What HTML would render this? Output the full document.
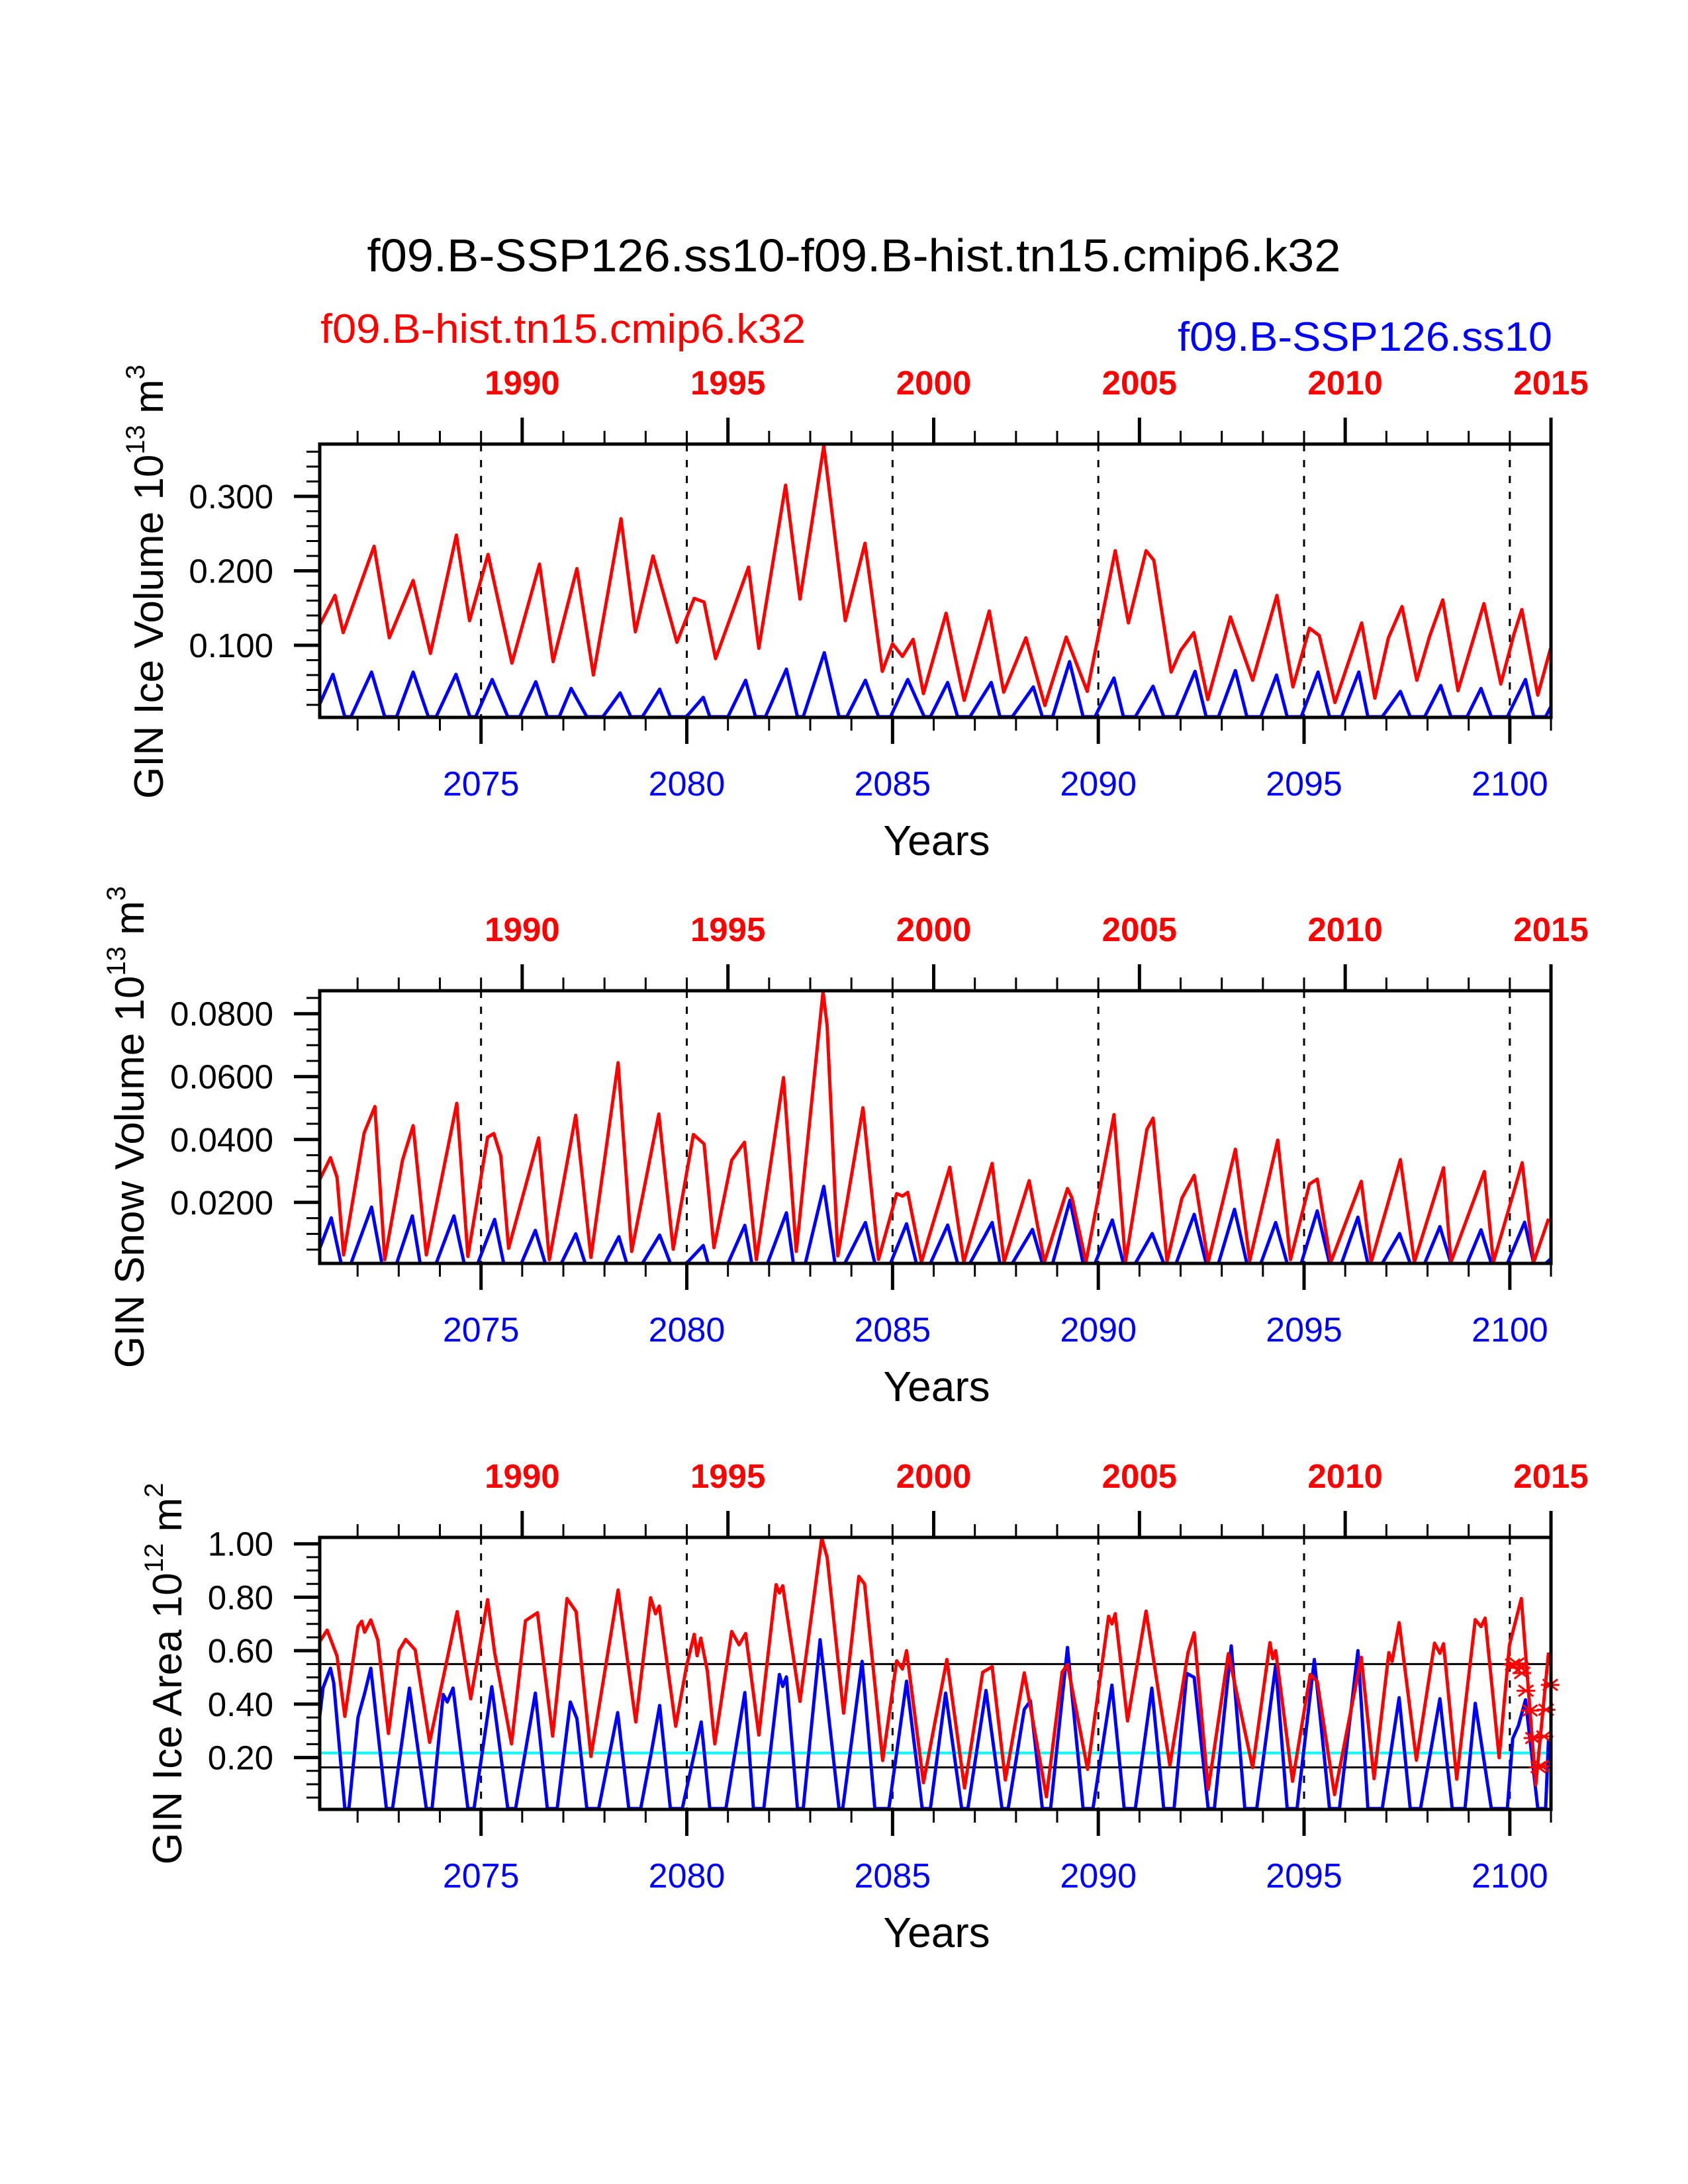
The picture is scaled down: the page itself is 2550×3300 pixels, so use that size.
<!DOCTYPE html>
<html><head><meta charset="utf-8"><style>
html,body{margin:0;padding:0;background:#fff}
svg{display:block}
text{font-family:"Liberation Sans",Arial,sans-serif}
</style></head><body>
<svg id="fig" xmlns="http://www.w3.org/2000/svg" width="2550" height="3300" viewBox="0 0 2550 3300">
<rect x="0" y="0" width="2550" height="3300" fill="#fff"/>
<text x="1290" y="410" font-size="70" text-anchor="middle" textLength="1471" lengthAdjust="spacingAndGlyphs">f09.B-SSP126.ss10-f09.B-hist.tn15.cmip6.k32</text>
<text x="484" y="518" font-size="62" fill="#ff0000" textLength="733" lengthAdjust="spacingAndGlyphs">f09.B-hist.tn15.cmip6.k32</text>
<text x="2345" y="530" font-size="62" fill="#0000ff" text-anchor="end" textLength="566" lengthAdjust="spacingAndGlyphs">f09.B-SSP126.ss10</text>
<g id="panels"></g>
</svg>
<script>
// ---------- Data (time in blue-axis years, value) ----------
const iceVolRedT = [2071.08,2071.45,2071.65,2072.4,2072.77,2073.35,2073.77,2074.4,2074.72,2075.17,2075.75,2076.42,2076.75,2077.33,2077.73,2078.4,2078.75,2079.18,2079.76,2080.18,2080.42,2080.7,2081.5,2081.75,2082.4,2082.75,2083.33,2083.85,2084.33,2084.75,2085.0,2085.24,2085.5,2085.75,2086.3,2086.74,2087.35,2087.7,2088.24,2088.7,2089.22,2089.73,2090.41,2090.73,2091.16,2091.35,2091.77,2092.0,2092.32,2092.66,2093.21,2093.75,2094.34,2094.73,2095.13,2095.37,2095.75,2096.4,2096.72,2097.05,2097.38,2097.74,2098.05,2098.37,2098.74,2099.37,2099.78,2100.1,2100.29,2100.68,2100.99];
const iceVolRedV = [.127,.167,.117,.233,.110,.187,.089,.248,.133,.222,.076,.209,.078,.203,.060,.270,.118,.220,.104,.163,.158,.082,.205,.096,.315,.162,.368,.133,.237,.065,.102,.085,.108,.035,.143,.026,.146,.037,.110,.019,.111,.038,.227,.130,.227,.214,.064,.093,.117,.027,.138,.053,.167,.044,.123,.113,.023,.130,.029,.110,.152,.053,.112,.161,.039,.156,.048,.115,.148,.033,.096];
const iceVolBlueT = [2071.08,2071.4,2071.69,2071.84,2072.34,2072.66,2072.95,2073.35,2073.72,2073.91,2074.39,2074.73,2074.87,2075.27,2075.65,2075.94,2076.33,2076.61,2076.9,2077.19,2077.57,2077.96,2078.38,2078.64,2078.92,2079.34,2079.6,2079.99,2080.4,2080.56,2081.0,2081.43,2081.67,2081.91,2082.42,2082.69,2082.83,2083.34,2083.7,2083.89,2084.34,2084.66,2084.95,2085.37,2085.77,2085.92,2086.34,2086.58,2086.88,2087.4,2087.61,2087.91,2088.42,2088.64,2088.89,2089.3,2089.63,2089.92,2090.38,2090.61,2090.9,2091.33,2091.59,2091.89,2092.35,2092.62,2092.92,2093.33,2093.61,2093.95,2094.33,2094.59,2094.93,2095.34,2095.62,2095.91,2096.33,2096.55,2096.9,2097.34,2097.58,2097.93,2098.32,2098.57,2098.96,2099.3,2099.55,2099.94,2100.38,2100.58,2100.87,2100.99];
const iceVolBlueV = [.021,.061,.004,.004,.064,.004,.004,.064,.004,.004,.061,.004,.004,.054,.004,.004,.051,.004,.004,.042,.004,.004,.036,.004,.004,.041,.004,.004,.030,.004,.004,.053,.004,.004,.068,.004,.004,.090,.004,.004,.053,.004,.004,.054,.004,.004,.050,.004,.004,.050,.004,.004,.044,.004,.004,.078,.004,.004,.056,.004,.004,.045,.004,.004,.065,.004,.004,.066,.004,.004,.060,.004,.004,.064,.004,.004,.064,.004,.004,.038,.004,.004,.046,.004,.004,.042,.004,.004,.054,.004,.004,.017];

const snowRedT = [2071.07,2071.34,2071.5,2071.66,2072.16,2072.42,2072.66,2073.09,2073.35,2073.67,2074.41,2074.68,2075.16,2075.31,2075.48,2075.67,2076.4,2076.66,2077.3,2077.67,2078.33,2078.66,2079.32,2079.67,2080.16,2080.42,2080.66,2081.09,2081.4,2081.69,2082.35,2082.66,2083.31,2083.41,2083.67,2084.28,2084.66,2085.1,2085.24,2085.37,2085.7,2086.39,2086.73,2087.42,2087.71,2088.32,2088.69,2089.25,2089.36,2089.7,2090.38,2090.66,2091.18,2091.33,2091.67,2092.03,2092.33,2092.67,2093.33,2093.68,2094.36,2094.67,2095.13,2095.32,2095.65,2096.39,2096.63,2097.34,2097.68,2098.39,2098.57,2099.38,2099.6,2100.3,2100.58,2100.94];
const snowRedV = [.027,.0342,.028,.0033,.0421,.0505,.0018,.0334,.0444,.0033,.0515,.0028,.0407,.0419,.0348,.0054,.0405,.0018,.0477,.0025,.0644,.0044,.0481,.0051,.0416,.0386,.0056,.0334,.0391,.0018,.0597,.0044,.087,.0762,.003,.0501,.0019,.0228,.022,.0232,.001,.0312,.001,.0324,.001,.0269,.001,.0244,.0214,.001,.0479,.001,.0432,.0468,.0012,.0213,.0286,.001,.0369,.0015,.0398,.0018,.0258,.0274,.001,.0267,.001,.0336,.001,.031,.001,.0298,.001,.0326,.001,.0148];
const snowBlueT = [2071.08,2071.36,2071.6,2071.84,2072.34,2072.59,2072.95,2073.33,2073.52,2073.91,2074.34,2074.59,2074.92,2075.33,2075.55,2075.98,2076.32,2076.56,2076.95,2077.3,2077.53,2078.01,2078.35,2078.54,2078.92,2079.34,2079.6,2079.99,2080.4,2080.52,2081.0,2081.41,2081.58,2081.96,2082.42,2082.59,2082.88,2083.33,2083.6,2083.84,2084.34,2084.57,2084.95,2085.34,2085.58,2085.92,2086.34,2086.58,2086.88,2087.42,2087.61,2087.91,2088.4,2088.64,2088.89,2089.31,2089.63,2089.92,2090.34,2090.61,2090.9,2091.31,2091.59,2091.89,2092.33,2092.62,2092.92,2093.31,2093.61,2093.95,2094.31,2094.59,2094.93,2095.32,2095.62,2095.91,2096.31,2096.55,2096.9,2097.32,2097.58,2097.93,2098.3,2098.57,2098.96,2099.3,2099.55,2099.94,2100.36,2100.58,2100.87,2100.99];
const snowBlueV = [.0054,.0151,.0006,.0006,.0185,.0006,.0006,.0157,.0006,.0006,.0157,.0006,.0006,.0146,.0006,.0006,.0111,.0006,.0006,.01,.0006,.0006,.0091,.0006,.0006,.0096,.0006,.0006,.0063,.0006,.0006,.0127,.0006,.0006,.0167,.0006,.0006,.0251,.0006,.0006,.0136,.0006,.0006,.0132,.0006,.0006,.0128,.0006,.0006,.0136,.0006,.0006,.0114,.0006,.0006,.0207,.0006,.0006,.0144,.0006,.0006,.0101,.0006,.0006,.0162,.0006,.0006,.0178,.0006,.0006,.0136,.0006,.0006,.0173,.0006,.0006,.0153,.0006,.0006,.0101,.0006,.0006,.0123,.0006,.0006,.0113,.0006,.0006,.0137,.0006,.0006,.002];

const areaRedT = [2071.08,2071.26,2071.5,2071.69,2072.01,2072.1,2072.17,2072.32,2072.49,2072.75,2073.01,2073.17,2073.4,2073.75,2074.42,2074.75,2075.16,2075.33,2075.74,2076.08,2076.37,2076.74,2077.09,2077.31,2077.67,2078.33,2078.76,2079.12,2079.24,2079.33,2079.73,2079.99,2080.18,2080.25,2080.34,2080.5,2080.68,2081.09,2081.27,2081.43,2081.75,2082.17,2082.25,2082.33,2082.75,2083.28,2083.41,2083.81,2084.18,2084.32,2084.76,2085.1,2085.24,2085.34,2085.75,2086.32,2086.75,2087.19,2087.42,2087.74,2088.2,2088.74,2089.12,2089.25,2089.74,2090.25,2090.33,2090.41,2090.71,2091.16,2091.74,2092.18,2092.33,2092.67,2093.16,2093.75,2094.17,2094.24,2094.31,2094.72,2095.15,2095.32,2095.74,2096.39,2096.7,2097.06,2097.14,2097.31,2097.73,2098.17,2098.3,2098.39,2098.71,2099.16,2099.3,2099.4,2099.74,2099.99,2100.28,2100.63,2100.94];
const areaRedV = [.634,.677,.58,.354,.69,.71,.669,.715,.64,.29,.601,.642,.603,.257,.746,.42,.791,.593,.251,.712,.742,.28,.795,.746,.204,.827,.333,.798,.738,.767,.317,.54,.661,.581,.647,.523,.251,.672,.622,.664,.284,.847,.816,.843,.41,1.021,.95,.366,.878,.849,.189,.562,.531,.6,.106,.567,.086,.519,.54,.116,.517,.053,.52,.548,.156,.729,.70,.738,.337,.748,.17,.593,.667,.08,.589,.162,.63,.57,.6,.111,.511,.485,.061,.575,.121,.593,.56,.705,.19,.628,.59,.626,.119,.716,.69,.722,.199,.62,.795,.098,.593];
const areaBlueT = [2071.08,2071.16,2071.34,2071.42,2071.69,2071.79,2072.01,2072.17,2072.32,2072.7,2072.85,2073.26,2073.67,2073.81,2074.08,2074.18,2074.32,2074.68,2074.83,2075.26,2075.65,2075.84,2076.32,2076.61,2076.85,2077.17,2077.33,2077.57,2077.86,2078.32,2078.59,2078.88,2079.15,2079.34,2079.6,2079.89,2080.35,2080.56,2080.95,2081.41,2081.62,2081.87,2082.25,2082.33,2082.42,2082.69,2082.83,2083.24,2083.7,2083.79,2084.26,2084.57,2084.91,2085.34,2085.72,2085.92,2086.29,2086.68,2086.83,2087.27,2087.66,2087.81,2088.2,2088.35,2088.64,2088.84,2089.25,2089.63,2089.87,2090.33,2090.63,2090.9,2091.3,2091.59,2091.84,2092.15,2092.33,2092.67,2092.82,2093.23,2093.56,2093.85,2094.31,2094.59,2094.83,2095.25,2095.62,2095.86,2096.31,2096.55,2096.9,2097.31,2097.58,2097.83,2098.3,2098.6,2098.91,2099.16,2099.55,2099.94,2100.07,2100.21,2100.38,2100.68,2100.87,2100.94];
const areaBlueV = [.354,.461,.534,.48,.009,.009,.35,.44,.534,.009,.009,.46,.009,.009,.436,.408,.46,.009,.009,.465,.009,.009,.441,.009,.009,.408,.346,.009,.009,.368,.009,.009,.23,.395,.009,.009,.333,.009,.009,.443,.009,.009,.511,.466,.502,.009,.009,.641,.009,.009,.56,.009,.009,.486,.009,.009,.441,.009,.009,.451,.009,.009,.38,.412,.009,.009,.612,.009,.009,.471,.009,.009,.46,.009,.009,.515,.50,.009,.009,.618,.009,.009,.544,.009,.009,.567,.009,.009,.6,.009,.009,.424,.009,.009,.42,.009,.009,.403,.009,.009,.271,.32,.416,.009,.009,.271];
const starT = [2100.07,2100.17,2100.27,2100.29,2100.39,2100.49,2100.56,2100.69,2100.77,2100.83,2100.88,2100.98];
const starV = [.548,.552,.536,.516,.450,.376,.273,.164,.168,.279,.379,.472];
const areaRefLines = [0.55, 0.163];
const areaCyanLine = [0.217];

const bottomTickLabels = ["2075","2080","2085","2090","2095","2100"];
const bottomTickYears = [2075,2080,2085,2090,2095,2100];
const topTickLabels = ["1990","1995","2000","2005","2010","2015"];
const topTickYears = [2076,2081,2086,2091,2096,2101];

// ---------- Layout ----------
const X0=483, X1=2343, T0=2071.08, T1=2101.0;
const sx = t => X0 + (t-T0)/(T1-T0)*(X1-X0);
const NS="http://www.w3.org/2000/svg";
const root=document.getElementById('panels');
function el(tag, attrs, parent){const e=document.createElementNS(NS,tag);for(const k in attrs)e.setAttribute(k,attrs[k]);(parent||root).appendChild(e);return e;}

const panels=[
 {key:'ice-volume',top:671,bot:1084,vmin:0.0031,vmax:0.3702,minorStep:0.02,majors:[0.1,0.2,0.3],labels:["0.100","0.200","0.300"],
  red:[iceVolRedT,iceVolRedV],blue:[iceVolBlueT,iceVolBlueV],title:["GIN Ice Volume 10","13"," m","3"],tx:246,tmid:879},
 {key:'snow-volume',top:1497,bot:1909,vmin:0.0006,vmax:0.0873,minorStep:0.005,majors:[0.02,0.04,0.06,0.08],labels:["0.0200","0.0400","0.0600","0.0800"],
  red:[snowRedT,snowRedV],blue:[snowBlueT,snowBlueV],title:["GIN Snow Volume 10","13"," m","3"],tx:217,tmid:1703},
 {key:'ice-area',top:2323,bot:2734,vmin:0.0058,vmax:1.024,minorStep:0.05,majors:[0.2,0.4,0.6,0.8,1.0],labels:["0.20","0.40","0.60","0.80","1.00"],
  red:[areaRedT,areaRedV],blue:[areaBlueT,areaBlueV],title:["GIN Ice Area 10","12"," m","2"],tx:274,tmid:2529}
];

panels.forEach((p,pi)=>{
  const g=el('g',{});
  
  
  const sy=v=>p.bot-(v-p.vmin)/(p.vmax-p.vmin)*(p.bot-p.top);
  // dashed year lines
  bottomTickYears.forEach(yr=>{
    const l=el('line',{x1:sx(yr),x2:sx(yr),y1:p.top,y2:p.bot,stroke:'#000','stroke-width':3,'stroke-dasharray':'11 13'},g);
    
    
  });
  if(p.key==='ice-area'){
    areaRefLines.forEach(v=>{
      const l=el('line',{x1:X0,x2:X1,y1:sy(v),y2:sy(v),stroke:'#000','stroke-width':3},g);
      
      
    });
    areaCyanLine.forEach(v=>{
      const l=el('line',{x1:X0,x2:X1,y1:sy(v),y2:sy(v),stroke:'#00ffff','stroke-width':4},g);
      
      
    });
  }
  // series
  [['blue',p.blue,'#0000ff'],['red',p.red,'#ff0000']].forEach(([nm,s,c])=>{
    const d=s[0].map((t,i)=>(i?'L':'M')+sx(t).toFixed(1)+','+sy(s[1][i]).toFixed(1)).join('');
    const path=el('path',{d:d,fill:'none',stroke:c,'stroke-width':5,'stroke-linejoin':'round'},g);
    
    
  });
  if(p.key==='ice-area'){
    starT.forEach((t,i)=>{
      const cx=sx(t), cy=sy(starV[i]), r=14;
      const m=el('path',{d:`M${cx-r},${cy}L${cx+r},${cy}M${cx-r*0.8},${cy-r*0.6}L${cx+r*0.8},${cy+r*0.6}M${cx-r*0.8},${cy+r*0.6}L${cx+r*0.8},${cy-r*0.6}`,stroke:'#ff0000','stroke-width':3,fill:'none'},g);
      
      
    });
  }
  // frame
  const fr=el('rect',{x:X0,y:p.top,width:X1-X0,height:p.bot-p.top,fill:'none',stroke:'#000','stroke-width':5},g);
  
  
  // y ticks
  for(let v=p.minorStep; v<p.vmax; v+=p.minorStep){
    const vv=Math.round(v*10000)/10000;
    if(vv<p.vmin) continue;
    const isMaj=p.majors.some(m=>Math.abs(m-vv)<1e-6);
    const tk=el('line',{x1:X0-(isMaj?39:20),x2:X0,y1:sy(vv),y2:sy(vv),stroke:'#000','stroke-width':isMaj?5:3},g);
    
    
  }
  p.majors.forEach((v,i)=>{
    const t=el('text',{x:413,y:sy(v)+18,'font-size':51,'text-anchor':'end'},g);
    t.textContent=p.labels[i];
    
    
  });
  // bottom/top ticks
  for(let yr=2072; yr<=2101; yr++){
    const maj=bottomTickYears.includes(yr);
    const tk=el('line',{x1:sx(yr),x2:sx(yr),y1:p.bot,y2:p.bot+(maj?40:20),stroke:'#000','stroke-width':maj?5:3},g);
    
    
    const majT=topTickYears.includes(yr);
    const tt=el('line',{x1:sx(yr),x2:sx(yr),y1:p.top,y2:p.top-(majT?40:20),stroke:'#000','stroke-width':majT?5:3},g);
    
    
  }
  bottomTickYears.forEach((yr,i)=>{
    const t=el('text',{x:sx(yr),y:p.bot+118,'font-size':52,'text-anchor':'middle',fill:'#0000ff'},g);
    t.textContent=bottomTickLabels[i];
    
    
  });
  topTickYears.forEach((yr,i)=>{
    const t=el('text',{x:sx(yr),y:p.top-75,'font-size':51,'font-weight':'bold','text-anchor':'middle',fill:'#ff0000'},g);
    t.textContent=topTickLabels[i];
    
    
  });
  const xt=el('text',{x:1415,y:p.bot+208,'font-size':64,'text-anchor':'middle'},g);
  xt.textContent='Years';
  
  
  const yt=el('text',{x:0,y:0,'font-size':62,'text-anchor':'middle',transform:`translate(${p.tx},${p.tmid}) rotate(-90)`},g);
  
  
  const a=el('tspan',{},yt); a.textContent=p.title[0];
  const b=el('tspan',{'font-size':40,dy:-28},yt); b.textContent=p.title[1];
  const c=el('tspan',{dy:28},yt); c.textContent=p.title[2];
  const d=el('tspan',{'font-size':40,dy:-28},yt); d.textContent=p.title[3];
});
</script>
</body></html>
